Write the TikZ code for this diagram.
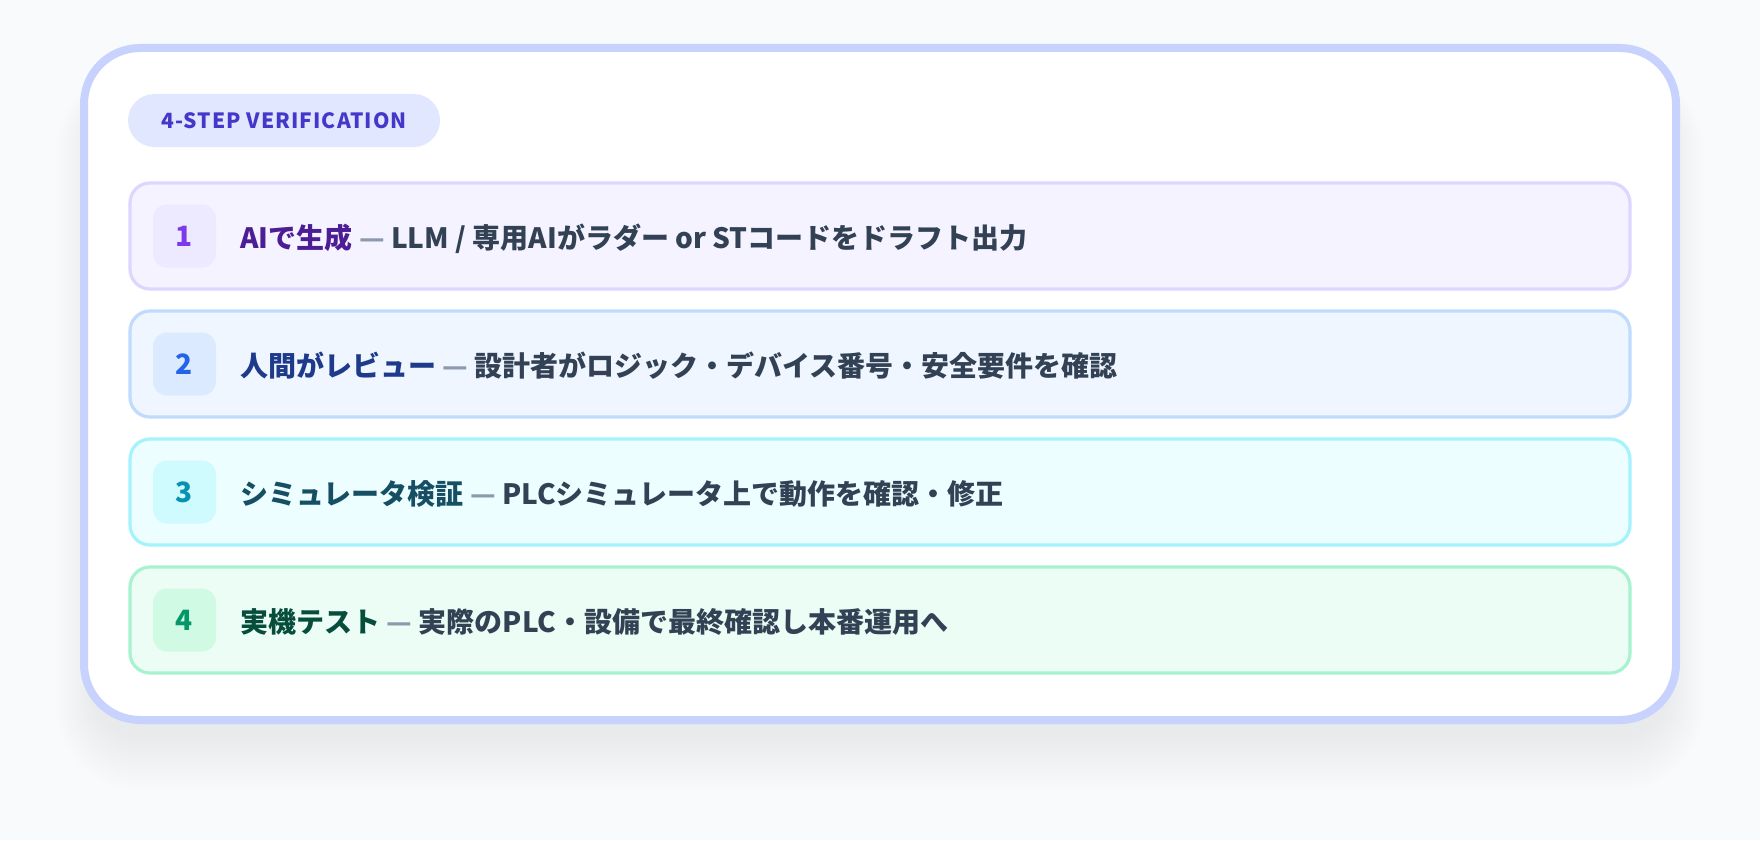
\documentclass[tikz,border=0pt]{standalone}
\usepackage{fontspec}
\setmainfont{Noto Sans CJK JP}
\definecolor{pagebg}{HTML}{F8FAFC}
\definecolor{cardline}{HTML}{C7D2FE}
\definecolor{tagfill}{HTML}{E0E7FF}
\definecolor{tagtext}{HTML}{4338CA}
\definecolor{bodytext}{HTML}{334155}
\definecolor{dashgray}{HTML}{8C98AB}
\definecolor{violetbg}{HTML}{F5F3FF}
\definecolor{violetline}{HTML}{DDD6FE}
\definecolor{violetnum}{HTML}{EDE9FE}
\definecolor{violetdigit}{HTML}{7C3AED}
\definecolor{violettitle}{HTML}{4C1D95}
\definecolor{bluebg}{HTML}{EFF6FF}
\definecolor{blueline}{HTML}{BFDBFE}
\definecolor{bluenum}{HTML}{DBEAFE}
\definecolor{bluedigit}{HTML}{2563EB}
\definecolor{bluetitle}{HTML}{1E3A8A}
\definecolor{cyanbg}{HTML}{ECFEFF}
\definecolor{cyanline}{HTML}{A5F3FC}
\definecolor{cyannum}{HTML}{CFFAFE}
\definecolor{cyandigit}{HTML}{0891B2}
\definecolor{cyantitle}{HTML}{164E63}
\definecolor{greenbg}{HTML}{ECFDF5}
\definecolor{greenline}{HTML}{A7F3D0}
\definecolor{greennum}{HTML}{D1FAE5}
\definecolor{greendigit}{HTML}{059669}
\definecolor{greentitle}{HTML}{064E3B}

\begin{document}
\begin{tikzpicture}[x=0.5pt, y=-0.5pt,
    card/.style={draw=cardline, line width=4pt, fill=white, rounded corners=28pt},
    tag/.style={fill=tagfill, rounded corners=13.25pt, minimum width=156pt,
        minimum height=26.5pt, inner sep=0pt, text=tagtext,
        font=\fontsize{10.5pt}{12pt}\selectfont\bfseries\addfontfeatures{LetterSpace=5}},
    stepbox/.style={line width=1.6pt, rounded corners=10pt},
    numbox/.style={minimum size=31.5pt, inner sep=0pt, rounded corners=7pt,
        font=\fontsize{14pt}{16pt}\selectfont\bfseries},
    steptext/.style={anchor=base west, inner sep=0pt, text=bodytext,
        font=\fontsize{14pt}{17pt}\selectfont\bfseries}]
    \fill[pagebg] (0,0) rectangle (1760,840);
    \foreach \k in {1,...,16}{
        \pgfmathsetmacro{\r}{(44+2.5*\k)/2}
        \pgfmathsetmacro{\xa}{96-2.5*\k}
        \pgfmathsetmacro{\ya}{100-2*\k}
        \pgfmathsetmacro{\xb}{1664+2.5*\k}
        \pgfmathsetmacro{\yb}{735+3.5*\k}
        \fill[black, opacity=0.0055, rounded corners=\r pt] (\xa,\ya) rectangle (\xb,\yb);
    }
    \draw[card] (84,48) rectangle (1676,720);
    \node[tag] (tag) at (284,120.5) {4-STEP VERIFICATION};

    \filldraw[stepbox, fill=violetbg, draw=violetline] (130,183) rectangle (1630,289);
    \node[numbox, fill=violetnum, text=violetdigit] (num1) at (184.5,236) {1};
    \node[steptext] (step1) at (240,248) {\textcolor{violettitle}{AIで生成} \textcolor{dashgray}{—} LLM / 専用AIがラダー or STコードをドラフト出力};

    \filldraw[stepbox, fill=bluebg, draw=blueline] (130,311) rectangle (1630,417);
    \node[numbox, fill=bluenum, text=bluedigit] (num2) at (184.5,364) {2};
    \node[steptext] (step2) at (240,376) {\textcolor{bluetitle}{人間がレビュー} \textcolor{dashgray}{—} 設計者がロジック・デバイス番号・安全要件を確認};

    \filldraw[stepbox, fill=cyanbg, draw=cyanline] (130,439) rectangle (1630,545);
    \node[numbox, fill=cyannum, text=cyandigit] (num3) at (184.5,492) {3};
    \node[steptext] (step3) at (240,504) {\textcolor{cyantitle}{シミュレータ検証} \textcolor{dashgray}{—} PLCシミュレータ上で動作を確認・修正};

    \filldraw[stepbox, fill=greenbg, draw=greenline] (130,567) rectangle (1630,673);
    \node[numbox, fill=greennum, text=greendigit] (num4) at (184.5,620) {4};
    \node[steptext] (step4) at (240,632) {\textcolor{greentitle}{実機テスト} \textcolor{dashgray}{—} 実際のPLC・設備で最終確認し本番運用へ};
\end{tikzpicture}
\end{document}
